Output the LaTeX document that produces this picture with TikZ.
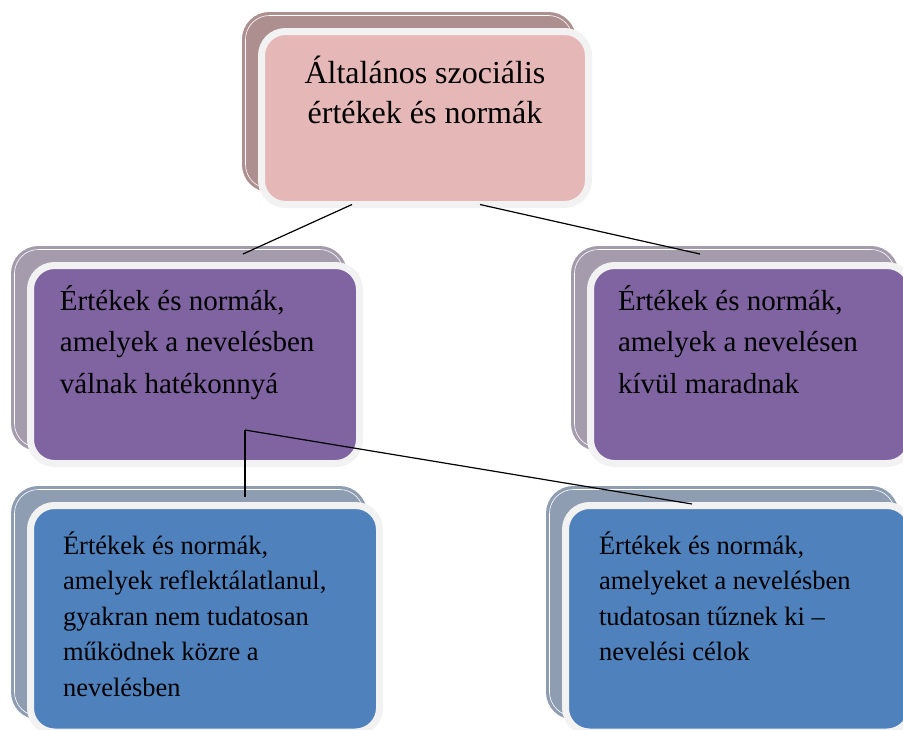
\documentclass[tikz,border=0pt]{standalone}
\usepackage{fontspec}
\setmainfont{Liberation Serif}
\usepackage{tikz}
\usetikzlibrary{shadows}

\definecolor{edgegrey}{HTML}{F2F2F2}
\definecolor{pinkfill}{HTML}{E5B8B7}
\definecolor{pinkshade}{HTML}{AE8F8F}
\definecolor{violetfill}{HTML}{8064A2}
\definecolor{violetshade}{HTML}{A49BAD}
\definecolor{bluefill}{HTML}{4F81BD}
\definecolor{blueshade}{HTML}{8E9DB2}

% text block: width, height, first baseline, settings, text
\newcommand{\cardtext}[5]{\parbox[c][#2][t]{#1}{#4\rule{0pt}{#3}#5}}

\tikzset{
  card/.style={rounded corners=24pt, draw=edgegrey, line width=7pt,
    inner sep=0pt, outer sep=0pt, anchor=north west},
  cardshade/.style={general shadow={shadow xshift=-16pt, shadow yshift=16pt,
    fill=#1, draw=#1, line width=3.2pt, double=white, double distance=0.6pt}},
  link/.style={line width=1.2pt, black}
}

\begin{document}
\begin{tikzpicture}[x=1pt,y=-1pt]
\useasboundingbox (0,0) rectangle (903,729);

\node (altalanos)[card, fill=pinkfill, cardshade=pinkshade] at (261.5,31.5)
  {\cardtext{327pt}{173pt}{51.5pt}{\centering\fontsize{32}{40.5}\selectfont}{%
   Általános szociális\\ értékek és normák}};

\node (hatekony)[card, fill=violetfill, cardshade=violetshade] at (30.5,265.5)
  {\cardtext{329pt}{198pt}{44.5pt}{\leftskip=29.5pt\fontsize{29}{41.5}\selectfont}{%
   Értékek és normák,\\ amelyek a nevelésben\\ válnak hatékonnyá}};

\node (kivul)[card, fill=violetfill, cardshade=violetshade] at (590.5,265.5)
  {\cardtext{320.5pt}{198pt}{44.5pt}{\leftskip=27.5pt\fontsize{29}{41.5}\selectfont}{%
   Értékek és normák,\\ amelyek a nevelésen\\ kívül maradnak}};

\node (reflektalatlan)[card, fill=bluefill, cardshade=blueshade] at (30.5,505.5)
  {\cardtext{349pt}{226.5pt}{48.5pt}{\leftskip=32.5pt\fontsize{26.5}{35.5}\selectfont}{%
   Értékek és normák,\\ amelyek reflektálatlanul,\\ gyakran nem tudatosan\\
   működnek közre a\\ nevelésben}};

\node (celok)[card, fill=bluefill, cardshade=blueshade] at (565.5,505.5)
  {\cardtext{345.5pt}{226.5pt}{48.5pt}{\leftskip=33.5pt\fontsize{26.5}{35.5}\selectfont}{%
   Értékek és normák,\\ amelyeket a nevelésben\\ tudatosan tűznek ki --\\
   nevelési célok}};

% the connections
\coordinate (split) at ([xshift=50pt,yshift=33.5pt]hatekony.south);
\draw[link] ([xshift=-73pt]altalanos.south) -- ([xshift=48pt,yshift=11.5pt]hatekony.north);
\draw[link] ([xshift=55pt]altalanos.south) -- ([xshift=-50.75pt,yshift=11.5pt]kivul.north);
\draw[link] (split) -- ([xshift=40pt,yshift=8.5pt]reflektalatlan.north);
\draw[link] (split) -- ([xshift=-46.25pt,yshift=1.5pt]celok.north);
\end{tikzpicture}
\end{document}
